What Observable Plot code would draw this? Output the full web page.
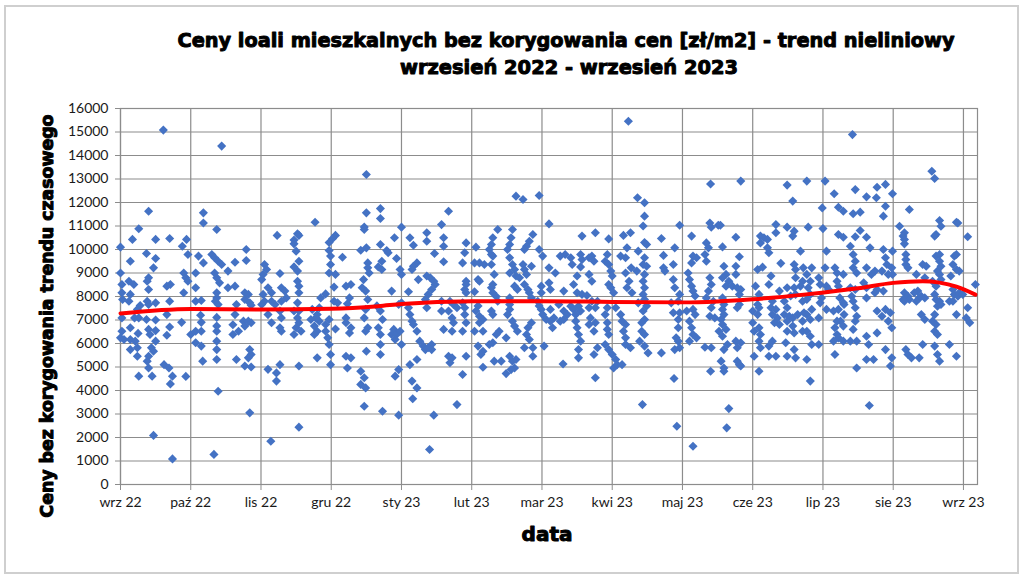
<!DOCTYPE html>
<html><head><meta charset="utf-8">
<script src="https://cdn.jsdelivr.net/npm/d3@7"></script>
<script src="https://cdn.jsdelivr.net/npm/@observablehq/plot@0.6"></script>
<style>body{margin:0;background:#fff} #chart{width:1024px;height:578px}</style>
</head><body><div id="chart"></div>
<script>
const monthLabels = ["wrz 22","paź 22","lis 22","gru 22","sty 23","lut 23","mar 23","kwi 23","maj 23","cze 23","lip 23","sie 23","wrz 23"];
const monthTicks = [0,1,2,3,4,5,6,7,8,9,10,11,12];
const yTicks = [0,1000,2000,3000,4000,5000,6000,7000,8000,9000,10000,11000,12000,13000,14000,15000,16000];

// [position in months from wrz 22, price zł/m2]
const seg1 = [[0.61,15080],[0.40,11630],[0.26,10880],[0.17,10430],[0.50,10430],[0.70,10470],[0.94,10430],[0.00,10100],[0.88,10140],[0.37,9830],[0.50,9620],[0.96,9790],[0.14,9500],[0.47,9220],[1.11,9720],[0.00,9000],[0.90,9000],[1.07,9000],[0.93,8800],[0.40,8800],[0.12,8650],[0.19,8510],[0.38,8650],[0.02,8510],[0.02,8160],[0.03,7870],[0.40,8300],[0.66,8440],[0.71,8510],[0.96,8650],[0.90,8160],[1.07,8370],[0.14,8090],[0.12,7800],[0.28,7620],[0.24,7450],[0.20,7090],[0.38,7800],[0.40,7660],[0.50,7730],[0.70,7800],[1.07,7800],[1.15,7830],[0.02,7090],[0.26,7090],[0.37,7020],[0.50,7000],[0.66,7230],[0.87,6900],[1.14,7200],[1.15,6900],[0.14,6670],[0.25,6430],[0.40,6600],[0.42,6380],[0.50,6550],[0.70,6700],[0.66,6350],[1.00,6380],[1.07,6520],[1.15,6520],[0.02,6520],[0.00,6240],[0.05,6170],[0.14,6170],[0.14,5740],[0.21,6100],[0.24,5820],[0.24,5460],[0.50,6100],[0.44,5820],[0.40,5460],[0.38,5250],[1.07,6030],[1.15,5890],[1.17,5250],[0.47,5670],[0.40,4960],[0.45,4610],[0.62,5100],[0.69,4960],[0.74,4610],[0.71,4280],[0.26,4610],[0.93,4600],[0.47,2090],[0.74,1090]];
const seg2 = [[1.44,14400],[1.18,11560],[1.18,11130],[1.37,10850],[2.23,10600],[1.79,10000],[1.79,9530],[1.30,9790],[1.34,9650],[1.39,9500],[1.44,9360],[1.18,9430],[1.63,9460],[2.05,9360],[2.08,9150],[2.03,8940],[2.01,8720],[2.27,8980],[1.34,9000],[1.37,8800],[1.41,8580],[1.53,9080],[1.53,8370],[1.63,8440],[1.37,8160],[1.37,7940],[1.35,7800],[1.39,7660],[1.77,8160],[1.82,8090],[1.77,7870],[1.84,7730],[1.86,7630],[1.65,7660],[1.63,7230],[1.60,6800],[2.03,8090],[2.05,7800],[2.10,8370],[2.15,8160],[2.15,7800],[2.20,7660],[2.29,8370],[2.34,8230],[2.36,7940],[2.29,7800],[2.01,7660],[1.37,7110],[1.37,6740],[1.37,6520],[1.68,6520],[1.75,6950],[1.77,6740],[1.82,6950],[1.86,6880],[1.60,6380],[2.10,7230],[2.15,6880],[2.27,7380],[2.29,7090],[2.27,6670],[2.29,6520],[1.84,5740],[1.86,5530],[1.82,5390],[1.37,6100],[1.37,5740],[1.37,5320],[1.65,5320],[1.77,5040],[1.86,5000],[2.10,4900],[2.22,4750],[2.27,5100],[2.22,4400],[1.39,3970],[1.84,3050],[2.14,1840],[1.33,1280]];
const seg3 = [[3.50,13190],[2.77,11160],[3.50,11560],[2.52,10670],[2.54,10600],[2.47,10400],[2.47,10240],[2.50,9930],[3.06,10600],[3.02,10470],[2.97,10300],[2.97,9960],[2.99,9720],[3.47,10960],[3.47,10850],[3.50,10070],[3.42,9970],[3.16,9670],[2.54,9500],[2.47,9260],[2.52,9080],[2.99,9360],[2.97,9000],[3.06,8940],[3.52,9430],[3.52,9220],[3.54,9000],[2.52,8650],[2.54,8440],[2.54,8160],[2.52,7730],[3.04,8400],[3.21,8440],[3.28,8510],[3.26,7940],[2.92,8110],[2.85,7940],[3.46,8720],[3.44,8370],[3.49,8230],[3.52,7870],[3.04,7800],[3.09,7730],[2.73,7450],[2.83,7520],[3.23,7690],[2.47,7380],[2.54,7380],[2.52,7090],[2.54,6880],[2.50,6670],[2.57,6520],[2.47,6380],[2.97,7020],[2.80,7230],[2.83,6950],[2.78,7090],[2.71,7020],[2.76,6740],[2.80,6520],[2.76,6380],[2.92,6810],[2.92,6520],[2.95,6240],[2.97,5960],[2.99,5530],[2.99,5100],[3.06,6620],[3.21,7090],[3.21,6880],[3.28,6670],[3.26,6450],[3.49,7450],[3.47,7090],[3.52,6670],[3.49,6520],[3.21,5460],[3.28,5390],[3.23,4960],[3.50,5670],[2.80,5390],[2.54,5040],[3.42,4820],[3.47,4540],[3.42,4260],[3.49,4110],[3.47,3330],[2.54,2440]];
const seg4 = [[3.70,11740],[3.70,11320],[4.67,11630],[4.00,10950],[4.57,11060],[4.36,10710],[4.36,10350],[4.12,10500],[4.17,10180],[3.90,10500],[4.60,10500],[4.60,10140],[3.70,10210],[3.79,9960],[3.81,9860],[4.47,9830],[3.93,9620],[3.72,9500],[3.67,9260],[3.72,9150],[4.60,9480],[3.98,9150],[4.00,8940],[4.22,9430],[4.17,9290],[4.15,9150],[4.24,8720],[4.36,8870],[4.41,8800],[4.46,8650],[4.48,8510],[4.43,8300],[4.38,8090],[4.34,7870],[3.86,8230],[4.10,8200],[4.00,7730],[3.96,7660],[4.36,7520],[4.57,7800],[4.57,7380],[4.69,7800],[4.67,7380],[4.74,7660],[4.79,7520],[3.65,7600],[3.70,7380],[3.73,7020],[3.67,6670],[4.10,7520],[4.12,7230],[4.15,6950],[4.17,6810],[4.22,6520],[4.72,7090],[4.74,6880],[4.72,6520],[4.60,6600],[3.89,6600],[3.86,6380],[3.93,6380],[3.91,6170],[3.98,6520],[4.00,5960],[3.70,6380],[3.70,5960],[3.70,5530],[4.26,6100],[4.31,5890],[4.34,5740],[4.43,5960],[4.43,5740],[4.38,5820],[4.67,5460],[4.72,5390],[4.69,5180],[4.22,5320],[4.12,5100],[3.96,4890],[3.91,4610],[4.15,4400],[4.22,4110],[4.16,3650],[4.79,3400],[3.73,3120],[3.96,2950],[4.46,2950],[4.40,1490]];
const seg5 = [[5.63,12270],[5.73,12130],[5.96,12300],[5.37,10850],[5.30,10500],[5.28,10210],[5.25,10000],[5.28,9790],[5.30,9720],[5.58,10850],[5.56,10500],[5.54,10210],[5.51,10000],[5.87,10640],[5.82,10350],[5.78,10140],[5.75,10000],[4.92,10280],[4.90,9860],[4.87,9430],[5.06,10100],[5.96,10000],[6.01,9720],[5.54,9650],[5.04,9430],[5.11,9430],[5.18,9360],[5.28,9360],[5.58,9360],[5.61,9150],[5.73,9360],[5.85,9290],[5.75,9150],[5.78,8940],[5.54,9000],[5.32,8940],[5.63,8870],[5.68,8800],[5.09,8720],[5.11,8650],[4.92,8650],[4.92,8510],[4.90,8300],[5.30,8510],[5.28,8370],[5.30,8160],[5.61,8440],[5.65,8300],[5.75,8510],[5.80,8300],[5.82,8160],[5.85,7940],[5.04,8200],[4.92,8160],[5.99,8440],[5.99,8160],[5.35,8000],[5.37,7800],[5.54,7940],[5.54,7660],[5.54,7450],[5.51,7230],[4.87,7730],[4.90,7520],[4.90,7230],[5.09,7600],[5.06,7380],[5.11,7160],[5.16,7020],[5.11,6880],[5.28,7380],[5.30,7230],[5.94,7800],[5.96,7600],[5.99,7450],[6.01,7230],[6.06,7020],[5.58,6950],[5.61,6740],[5.65,6520],[5.85,6880],[5.80,6670],[5.78,6380],[5.82,6170],[4.92,6880],[4.87,6520],[5.16,6520],[5.39,6520],[5.35,6380],[5.30,6030],[5.25,5960],[5.04,6520],[5.49,6240],[6.03,5890],[5.09,5890],[5.16,5670],[5.13,5530],[5.75,5820],[5.87,5820],[5.87,5460],[4.92,5460],[5.32,5250],[5.42,5250],[5.54,5460],[5.58,5250],[5.63,5320],[5.61,4960],[5.56,4890],[5.49,4720],[5.16,4990],[4.87,4680]];
const seg6 = [[7.23,15460],[6.10,11090],[6.76,10710],[6.57,10570],[6.95,10450],[7.16,10600],[7.26,10710],[7.21,10070],[6.26,9720],[6.33,9790],[6.41,9650],[6.43,9360],[6.55,9790],[6.57,9570],[6.55,9260],[6.71,9720],[6.67,9650],[6.74,9500],[6.93,9790],[6.90,9500],[6.95,9360],[7.12,9720],[7.19,9650],[6.10,9220],[6.19,9000],[6.50,8870],[6.67,8940],[6.71,8650],[6.98,9080],[7.00,8870],[6.95,8510],[6.98,8370],[7.02,8160],[7.19,9000],[7.24,8650],[7.21,8370],[7.28,8160],[6.10,8580],[6.12,8300],[6.45,8510],[6.50,8160],[6.57,8090],[6.31,8230],[6.64,8040],[6.71,7800],[6.79,7800],[6.76,7520],[6.67,7520],[6.24,7660],[6.31,7380],[6.36,7230],[6.41,7590],[6.45,7450],[6.48,7230],[6.52,7590],[6.55,7380],[6.12,7450],[6.17,7090],[6.12,6950],[6.15,6670],[6.26,6950],[6.31,7020],[6.48,6950],[6.50,6670],[6.52,6380],[6.55,6100],[6.69,7090],[6.67,6810],[6.76,6880],[6.74,6520],[6.93,7520],[6.90,7230],[6.93,6880],[6.93,6600],[6.95,6380],[7.05,7520],[7.12,7230],[7.14,6950],[7.19,6810],[7.16,6520],[7.19,6240],[7.19,5960],[6.52,5740],[6.52,5390],[6.79,5820],[6.74,5530],[6.90,5960],[6.95,5740],[7.00,5530],[7.05,5320],[7.02,4960],[7.07,5100],[7.14,5100],[7.26,5820],[6.30,5130],[6.76,4540]];
const seg7 = [[8.40,12790],[7.36,12200],[7.46,11990],[7.46,11420],[7.44,11000],[7.96,11030],[8.39,11130],[8.41,10950],[8.51,11030],[8.13,10570],[7.70,10470],[7.46,10300],[7.49,10210],[7.37,9930],[7.89,10070],[8.34,10280],[8.37,10070],[8.32,9790],[8.34,9500],[8.15,9720],[8.20,9650],[8.13,9430],[7.73,9750],[7.73,9220],[7.75,9080],[7.87,9360],[7.46,9650],[7.44,9360],[7.49,9290],[7.46,8940],[7.44,8650],[7.46,8370],[7.44,8090],[7.27,9220],[7.35,9080],[8.08,9000],[8.10,8720],[8.13,8440],[8.15,8230],[8.18,8020],[7.87,8720],[7.89,8370],[7.96,8090],[7.94,7800],[8.39,8800],[8.41,8510],[8.37,8230],[8.34,7940],[8.44,7800],[7.37,7730],[7.46,7870],[7.49,7600],[7.44,7380],[7.46,7020],[7.42,6880],[7.84,7730],[7.87,7310],[7.96,7310],[8.06,7380],[8.15,7450],[8.18,7230],[8.41,7520],[8.39,7160],[8.46,7090],[8.10,6950],[8.13,6670],[8.15,6380],[8.20,6240],[8.10,6100],[7.94,7020],[7.94,6670],[7.91,6240],[7.94,6100],[7.96,5820],[7.89,5740],[7.42,6520],[7.46,6380],[7.39,6100],[7.46,5890],[7.51,5600],[7.70,5600],[8.32,5840],[8.41,5820],[8.40,4820],[7.88,4510],[7.43,3400],[7.92,2480],[8.15,1630]];
const seg8 = [[8.83,12910],[9.49,12740],[9.57,12060],[8.54,11030],[9.33,11060],[9.33,10710],[9.49,10950],[9.59,10780],[9.57,10570],[9.11,10570],[9.16,10500],[9.11,10280],[9.21,10430],[9.21,10070],[9.23,9860],[8.76,10520],[8.57,10110],[8.81,9690],[9.68,9930],[9.40,9410],[9.59,9360],[8.59,9290],[8.62,8940],[8.57,8800],[8.66,8650],[8.62,8440],[8.71,8440],[8.76,8940],[8.76,9290],[9.07,9150],[9.14,9250],[9.04,8440],[9.09,8090],[9.26,8870],[9.23,8510],[9.61,9150],[9.61,8800],[9.71,8650],[8.78,8370],[8.81,8090],[8.83,8300],[9.38,8230],[9.49,8370],[9.54,8020],[9.59,8370],[9.61,8090],[9.68,8440],[8.57,7940],[8.59,7660],[8.57,7450],[8.59,7230],[8.55,7020],[8.57,6810],[8.62,6600],[8.78,7520],[8.81,7660],[9.00,7380],[9.07,7230],[9.09,7520],[9.07,7660],[9.28,7800],[9.26,7520],[9.33,7450],[9.28,7230],[9.35,7090],[9.31,6880],[9.38,6810],[9.45,7800],[9.49,7520],[9.45,7230],[9.52,7160],[9.49,6950],[9.57,7090],[9.64,7230],[9.57,6740],[9.49,6520],[9.59,6450],[9.71,7800],[9.73,7310],[9.71,6950],[8.52,6520],[8.57,6310],[8.64,5960],[8.59,5740],[8.76,6100],[8.83,6030],[8.78,5820],[9.00,6880],[9.02,6520],[9.09,6670],[9.11,6380],[9.09,6100],[9.11,5820],[9.02,5460],[9.23,5890],[9.28,6100],[9.23,5460],[9.33,5460],[9.47,6030],[9.49,5460],[9.59,5740],[9.61,5390],[9.71,6520],[8.55,5250],[8.59,4960],[8.59,4820],[8.78,5250],[8.81,5100],[8.83,5040],[9.09,4820],[8.66,3230],[8.63,2410]];
const seg9 = [[10.42,14890],[9.77,12910],[10.03,12910],[10.16,12370],[10.46,12550],[10.62,12240],[10.77,12650],[10.89,12770],[10.76,12200],[9.99,11770],[10.22,11800],[10.29,11630],[10.43,11520],[10.53,11590],[10.89,11840],[10.86,11420],[9.79,10950],[10.00,10890],[10.22,10640],[10.29,10520],[10.53,10810],[10.46,10540],[10.62,10520],[10.05,9930],[10.39,10140],[10.43,9790],[10.46,9500],[10.43,9220],[10.48,9000],[10.67,10070],[10.86,10000],[10.89,9650],[10.91,9360],[9.72,9220],[9.77,8940],[9.82,8650],[9.79,8370],[9.84,9220],[10.03,9220],[10.17,9220],[10.20,9000],[10.29,8940],[10.20,8650],[10.62,9220],[10.69,8940],[10.74,9080],[10.58,8580],[10.62,8370],[10.84,9080],[10.93,8940],[10.98,9220],[9.94,8800],[9.96,8510],[10.05,8440],[10.08,8300],[10.22,8440],[10.39,8370],[10.46,8300],[10.41,8010],[10.43,7800],[10.77,8300],[10.86,8230],[10.74,8160],[9.77,7870],[9.82,8090],[9.96,7730],[9.98,7940],[10.24,7940],[10.29,7730],[10.22,7450],[10.62,7940],[10.77,7380],[10.89,7450],[10.84,7160],[10.93,6950],[10.96,7310],[10.98,6670],[10.30,7660],[10.30,7230],[10.25,6950],[10.29,6740],[10.46,7520],[10.48,7160],[10.46,6950],[10.43,6600],[10.05,7450],[10.15,7380],[10.20,6950],[10.17,6670],[10.20,6380],[10.22,6240],[10.15,6100],[9.84,7450],[9.77,7230],[9.82,7020],[9.94,7090],[9.77,6520],[9.82,6310],[9.94,5960],[9.84,5960],[10.29,6100],[10.39,6100],[10.48,6100],[10.62,6310],[10.65,5960],[10.77,6450],[10.89,5740],[10.17,5530],[9.77,5320],[10.62,5320],[10.72,5320],[10.48,4960],[10.98,5390],[10.96,5040],[9.82,4400],[10.66,3360]];
const seg10 = [[11.55,13330],[11.59,13020],[10.99,12370],[11.23,11700],[11.09,10990],[11.16,10710],[11.14,10570],[11.16,10430],[11.16,10240],[11.66,11230],[11.68,10990],[11.61,10640],[11.59,10570],[11.90,11160],[11.92,11130],[12.06,10540],[10.99,9930],[11.18,9790],[11.18,9570],[11.18,9360],[11.21,9220],[11.42,9360],[11.47,9290],[11.61,9720],[11.66,9790],[11.66,9500],[11.68,9290],[11.63,9080],[11.66,8940],[11.68,8720],[11.87,9720],[11.90,9790],[11.85,9360],[11.90,9150],[11.94,9080],[10.99,8940],[11.33,8940],[11.45,8800],[11.56,8650],[11.61,8440],[11.82,8870],[11.16,8160],[11.21,8010],[11.23,7870],[11.16,7800],[11.14,7870],[11.30,8160],[11.35,8230],[11.37,7940],[11.33,7800],[11.40,8010],[11.45,7940],[11.59,8090],[11.61,7870],[11.66,7800],[11.63,7590],[11.68,7660],[11.80,7800],[11.85,8300],[11.87,8090],[11.92,8010],[11.94,8160],[11.99,8090],[11.85,7800],[12.17,8510],[11.40,7230],[11.45,7020],[11.59,7230],[11.56,6950],[11.61,6810],[11.59,6520],[11.63,6380],[11.90,7230],[12.06,7520],[12.04,7090],[12.09,6880],[11.42,5960],[11.59,5890],[11.80,5960],[11.18,5740],[11.21,5530],[11.26,5390],[11.37,5390],[11.63,5530],[11.66,5250],[11.90,5460]];

const trendX = [0, 1, 2, 3, 3.67, 4, 5, 6, 7, 8, 8.5, 9, 9.76, 10.5, 11, 11.42, 11.66, 11.9, 12.17];
const trendY = [7280, 7470, 7450, 7480, 7590, 7680, 7800, 7800, 7770, 7750, 7790, 7880, 8090, 8350, 8580, 8650, 8590, 8420, 8080];

const points = [...seg1,...seg2,...seg3,...seg4,...seg5,...seg6,...seg7,...seg8,...seg9,...seg10].map(([m, v]) => ({m, v}));
const trend = trendX.map((m, i) => ({m, v: trendY[i]}));

const grid = "#8c8c8c";
const chart = Plot.plot({
  width: 1024, height: 578,
  marginTop: 108, marginRight: 47, marginBottom: 94, marginLeft: 120,
  style: {fontFamily: "Lato", fontSize: "14px", color: "#1a1a1a", background: "#fff"},
  x: {domain: [0, 12.2]},
  y: {domain: [0, 16000]},
  marks: [
    Plot.gridY(yTicks, {stroke: grid, strokeOpacity: 1, strokeWidth: 1.2}),
    Plot.gridX(monthTicks, {stroke: grid, strokeOpacity: 1, strokeWidth: 1.2}),
    Plot.frame({stroke: grid, strokeWidth: 1.2}),
    Plot.axisY(yTicks, {tickSize: 5, tickPadding: 7, tickFormat: d => String(d), label: null, stroke: grid}),
    Plot.axisX(monthTicks, {tickSize: 6, tickPadding: 7, tickFormat: i => monthLabels[i], label: null, stroke: grid}),
    Plot.dot(points, {x: "m", y: "v", symbol: "diamond2", r: 4.1, fill: "#4472C4", stroke: "none"}),
    Plot.line(trend, {x: "m", y: "v", stroke: "#ff0000", strokeWidth: 4, curve: "monotone-x"})
  ]
});

const svg = d3.select(chart);
svg.append("rect").attr("x", 5).attr("y", 6).attr("width", 1013).attr("height", 567)
  .attr("fill", "none").attr("stroke", "#cfcfcf").attr("stroke-width", 2);
const heavy = t => t.attr("font-family", "DejaVu Sans").attr("font-weight", "bold")
  .attr("fill", "#000").attr("stroke", "#000").attr("stroke-width", 1).attr("stroke-linejoin", "round")
  .attr("text-anchor", "middle");
heavy(svg.append("text").attr("x", 566).attr("y", 47).attr("font-size", 20)
  .attr("textLength", 777).attr("lengthAdjust", "spacingAndGlyphs")
  .text("Ceny loali mieszkalnych bez korygowania cen [zł/m2] - trend nieliniowy"));
heavy(svg.append("text").attr("x", 569).attr("y", 74).attr("font-size", 20)
  .attr("textLength", 338).attr("lengthAdjust", "spacingAndGlyphs")
  .text("wrzesień 2022 - wrzesień 2023"));
heavy(svg.append("text").attr("transform", "translate(53,316) rotate(-90)").attr("font-size", 17)
  .attr("textLength", 403).attr("lengthAdjust", "spacingAndGlyphs")
  .text("Ceny bez korygowania trendu czasowego"));
heavy(svg.append("text").attr("x", 547).attr("y", 541).attr("font-size", 20)
  .text("data"));

document.getElementById("chart").appendChild(chart);
</script>
</body></html>
